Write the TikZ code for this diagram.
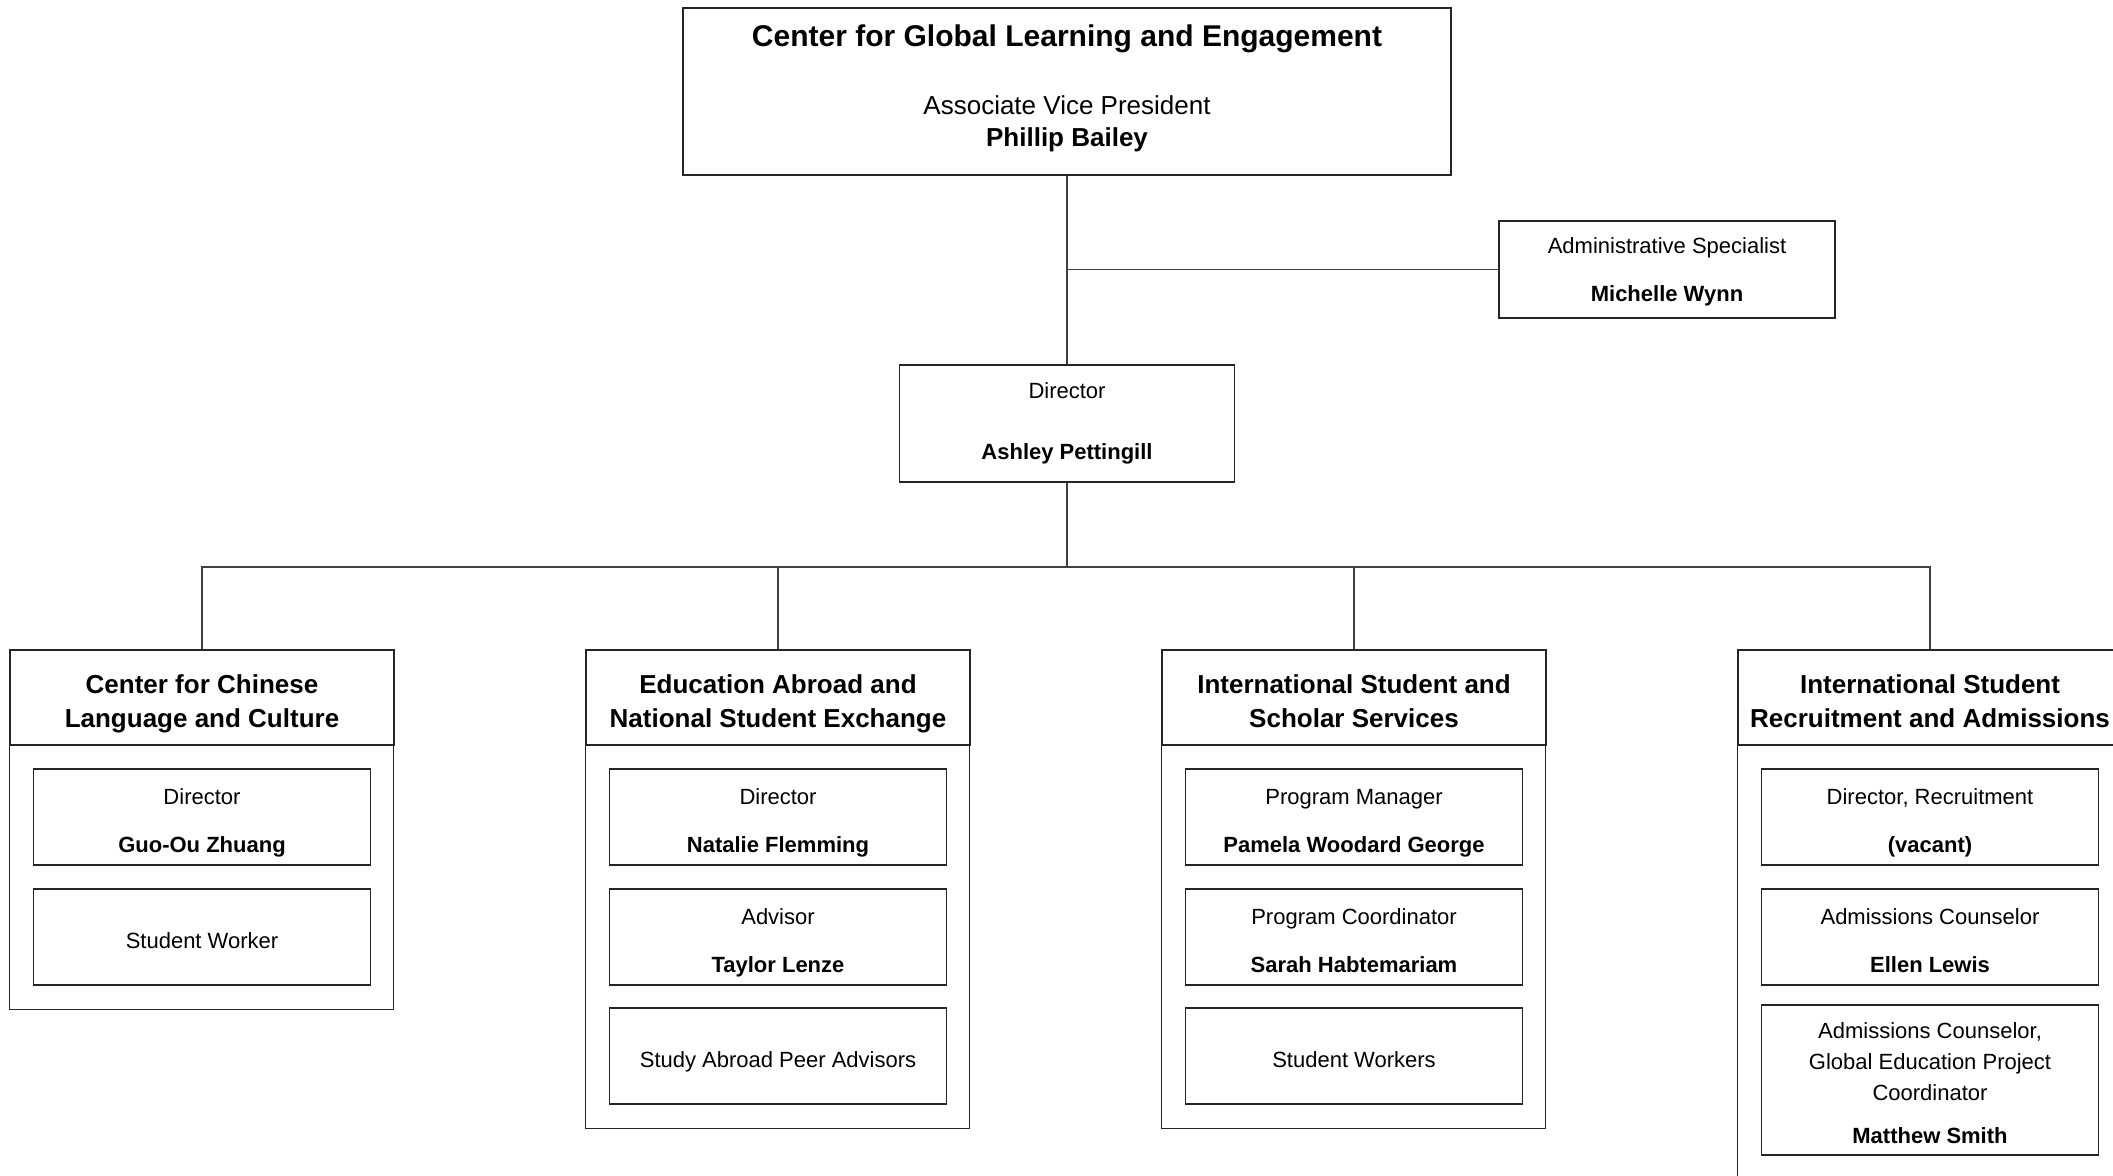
\documentclass[tikz,border=0pt]{standalone}
\usepackage{fontspec}
\setmainfont{Liberation Sans}
\tikzset{
  unit/.style={draw=black!85, line width=0.7pt, align=center, inner sep=0pt,
    font=\fontsize{11}{13}\selectfont},
  head/.style={unit, minimum width=192pt, minimum height=47.5pt, text depth=0pt,
    font=\fontsize{13}{17}\selectfont\bfseries},
  post/.style={unit, minimum width=168.5pt, minimum height=48pt, text depth=0pt,
    execute at begin node={\rule{0pt}{11.4pt}}},
  frame/.style={draw=black!85, line width=0.7pt},
  link/.style={draw=black!75, line width=0.7pt},
}
\newcommand{\who}[2]{\rule{0pt}{11.2pt}#1\\[11pt]\textbf{#2}}
\newcommand{\dept}[2]{\rule{0pt}{13.4pt}#1\\#2}
\begin{document}
\begin{tikzpicture}[x=0.5pt, y=-0.5pt]
      \useasboundingbox (0,0) rectangle (2113,1175);
      \clip (0,0) rectangle (2113,1175);
      \node[unit, minimum width=384pt, minimum height=83.5pt, text depth=6pt,
        font=\fontsize{13}{16}\selectfont] (cgle) at (1067,91.5)
        {{\fontsize{15}{18}\selectfont\bfseries Center for Global Learning and Engagement}\\[18pt]
         Associate Vice President\\\textbf{Phillip Bailey}};
      \node[unit, minimum width=168pt, minimum height=48.5pt, text depth=0pt] (adm) at (1667,269.5)
        {Administrative Specialist\\[11.2pt]\textbf{Michelle Wynn}};
      \node[unit, minimum width=167.5pt, minimum height=58.5pt] (dir) at (1067,423.5)
        {Director\\[17.5pt]\textbf{Ashley Pettingill}};
      \coordinate (bus) at (1067,567);
      % units
      \node[head] (cclc) at (202,697.5) {\dept{Center for Chinese}{Language and Culture}};
      \node[head] (eanse) at (778,697.5) {\dept{Education Abroad and}{National Student Exchange}};
      \node[head] (isss) at (1354,697.5) {\dept{International Student and}{Scholar Services}};
      \node[head] (isra) at (1930,697.5) {\dept{International Student}{Recruitment and Admissions}};
      \draw[frame] (cclc.south west) rectangle ++(384,264);
      \draw[frame] (eanse.south west) rectangle ++(384,383);
      \draw[frame] (isss.south west) rectangle ++(384,383);
      \draw[frame] (isra.south west) rectangle ++(384,460);
      % staff
      \node[post] (cclc1) at (202,817) {\who{Director}{Guo-Ou Zhuang}};
      \node[post] (cclc2) at (202,937) {Student Worker};
      \node[post] (eanse1) at (778,817) {\who{Director}{Natalie Flemming}};
      \node[post] (eanse2) at (778,937) {\who{Advisor}{Taylor Lenze}};
      \node[post] (eanse3) at (778,1056) {Study Abroad Peer Advisors};
      \node[post] (isss1) at (1354,817) {\who{Program Manager}{Pamela Woodard George}};
      \node[post] (isss2) at (1354,937) {\who{Program Coordinator}{Sarah Habtemariam}};
      \node[post] (isss3) at (1354,1056) {Student Workers};
      \node[post] (isra1) at (1930,817) {\who{Director, Recruitment}{(vacant)}};
      \node[post] (isra2) at (1930,937) {\who{Admissions Counselor}{Ellen Lewis}};
      \node[post, minimum height=75pt] (isra3) at (1930,1080)
        {\rule{0pt}{11pt}Admissions Counselor,\\[2.5pt]Global Education Project\\[2.5pt]Coordinator\\[8.5pt]\textbf{Matthew Smith}};
      \begin{scope}[link]
        \draw (cgle) to (dir);
        \draw (cgle.south |- adm.west) to (adm.west);
        \draw (dir) to (bus);
        \draw (bus) -| (cclc);
        \draw (bus) -| (eanse);
        \draw (bus) -| (isss);
        \draw (bus) -| (isra);
      \end{scope}
    \end{tikzpicture}
\end{document}
